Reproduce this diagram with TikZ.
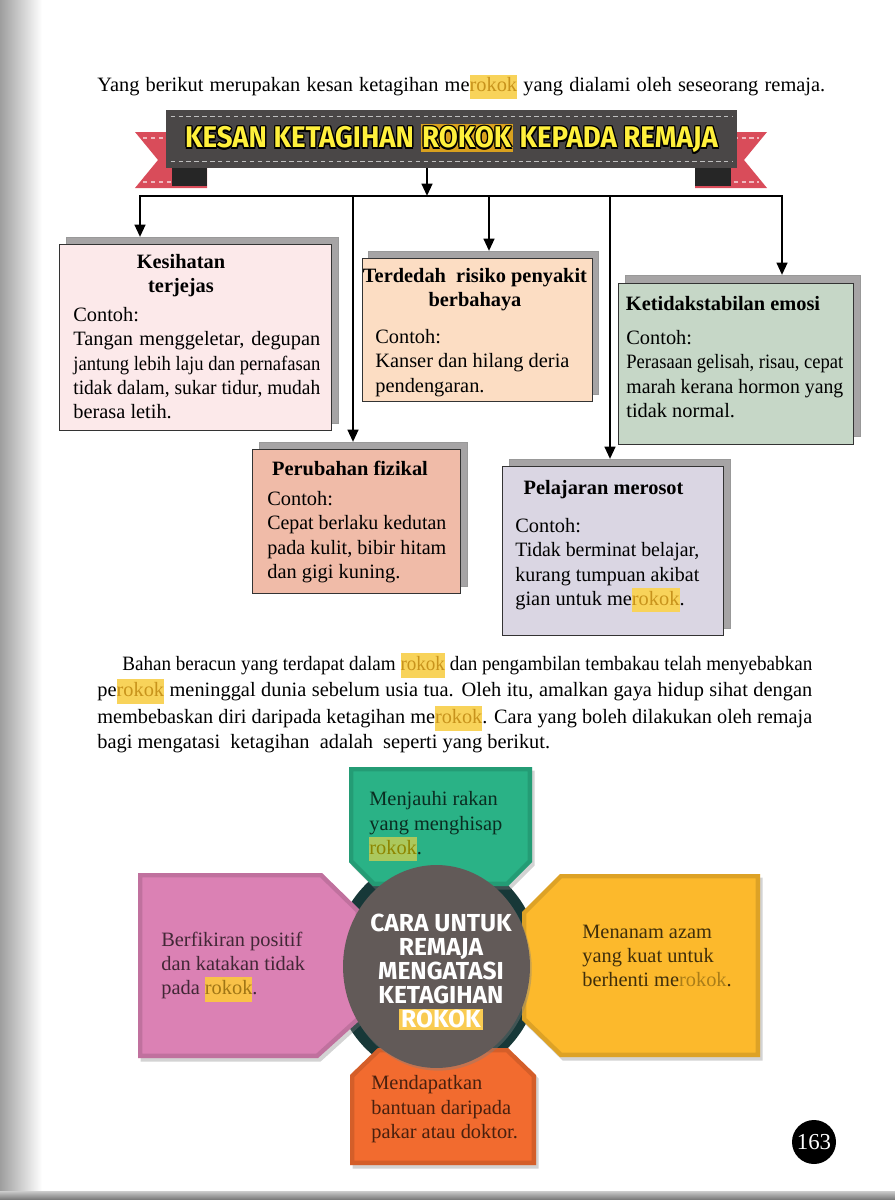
\documentclass[tikz,border=0pt]{standalone}
\usepackage{fontspec}
\usepackage{graphicx}
\usepackage{xcolor}
\setmainfont{Liberation Serif}
\newfontfamily\heavyfont{Fira Sans}
\usetikzlibrary{arrows.meta,calc,shadows,shapes.geometric}

\definecolor{bannergray}{HTML}{4A4747}
\definecolor{ribbon}{HTML}{D94C5A}
\definecolor{titleyel}{HTML}{FFF03C}
\definecolor{titlegold}{HTML}{D9A11E}
\definecolor{hlyel}{HTML}{F8D35A}
\definecolor{hltxt}{HTML}{C8931C}
\definecolor{boxpink}{HTML}{FCE9EA}
\definecolor{boxpeach}{HTML}{FCDDC3}
\definecolor{boxsage}{HTML}{C6D7C7}
\definecolor{boxsalmon}{HTML}{F0BBA8}
\definecolor{boxlilac}{HTML}{DAD6E3}
\definecolor{shadowgray}{HTML}{A6A4A5}
\definecolor{petgreen}{HTML}{2AB286}
\definecolor{petpink}{HTML}{DB81B4}
\definecolor{petyellow}{HTML}{FCB92C}
\definecolor{petorange}{HTML}{F26B2F}
\definecolor{hubgray}{HTML}{625A58}
\definecolor{hubring}{HTML}{173838}

\newcommand\bodyfont{\fontsize{11.6}{13.7}\selectfont}
\newcommand\topstrut{\rule{0pt}{10pt}}
\newlength\jlw
\newcommand\jline[2]{\settowidth\jlw{#2}\ifdim\jlw>#1\relax\resizebox{#1}{\height}{#2}\else\makebox[#1][s]{#2}\fi}
\newcommand\rk[3]{{\setlength\fboxsep{0pt}\colorbox{#1}{\strut\textcolor{#2}{#3}}}}
\newcommand\hl[1]{\rk{hlyel}{hltxt}{#1}}
\newcommand\olt[2]{\leavevmode
  \rlap{\kern-.8pt\textcolor{black}{#2}}\rlap{\kern.8pt\textcolor{black}{#2}}%
  \rlap{\raisebox{.8pt}{\textcolor{black}{#2}}}\rlap{\raisebox{-.8pt}{\textcolor{black}{#2}}}%
  \rlap{\kern-.6pt\raisebox{.6pt}{\textcolor{black}{#2}}}\rlap{\kern.6pt\raisebox{-.6pt}{\textcolor{black}{#2}}}%
  \rlap{\kern.6pt\raisebox{.6pt}{\textcolor{black}{#2}}}\rlap{\kern-.6pt\raisebox{-.6pt}{\textcolor{black}{#2}}}%
  \textcolor{#1}{#2}}

\begin{document}
\begin{tikzpicture}[x=0.02cm,y=-0.02cm,
  every node/.style={font=\bodyfont, inner sep=0pt},
  sz/.style 2 args={minimum width=#1*0.02cm, minimum height=#2*0.02cm},
  effbox/.style={draw=black!80, line width=0.8pt, anchor=north west},
  shadebox/.style={fill=shadowgray, draw=black!40, line width=0.5pt, anchor=north west},
  boxtitle/.style={font=\bodyfont\bfseries, align=center, anchor=north, yshift=10pt,
                   execute at begin node=\topstrut},
  boxbody/.style={align=left, anchor=north west, yshift=10pt,
                  execute at begin node=\topstrut},
  arr/.style={line width=1.4pt, -{Triangle[length=7pt,width=6pt]}},
  stitch/.style={white!75!black, line width=0.6pt, dash pattern=on 2.5pt off 2pt},
  petal/.style={drop shadow={shadow xshift=1.5pt, shadow yshift=-2pt, opacity=.35}},
  bevel/.style={line width=5pt, opacity=.3}]
\useasboundingbox (0,0) rectangle (895,1200);

% page edge
\shade[left color=black!38, right color=white] (0,0) rectangle (42,1200);
\shade[top color=black!20, bottom color=black!55] (0,1191) rectangle (895,1200);

\node[boxbody] (intro) at (97,91)
  {\jline{14.56cm}{Yang berikut merupakan kesan ketagihan me\hl{rokok} yang dialami oleh seseorang remaja.}};

% banner
\fill[ribbon] (207,132) -- (135,132) -- (158,160) -- (135,188) -- (207,188) -- cycle;
\fill[ribbon] (695,132) -- (767,132) -- (744,160) -- (767,188) -- (695,188) -- cycle;
\draw[stitch, white!60!ribbon] (143,138) -- (200,138);
\draw[stitch, white!60!ribbon] (143,182) -- (200,182);
\draw[stitch, white!60!ribbon] (702,138) -- (759,138);
\draw[stitch, white!60!ribbon] (702,182) -- (759,182);
\fill[black!85] (172,166) rectangle (207,186);
\fill[black!85] (695,166) rectangle (731,186);
\node[fill=bannergray, sz={571}{58}] (ban) at (451.5,139)
  {\heavyfont\bfseries\fontsize{17}{20}\selectfont
   \resizebox{10.66cm}{\height}{\olt{titleyel}{KESAN KETAGIHAN}
   {\setlength\fboxsep{1pt}\colorbox{titlegold}{\olt{titleyel}{ROKOK}}}
   \olt{titleyel}{KEPADA REMAJA}}};
\draw[stitch] ($(ban.north west)+(5,7)$) -- ($(ban.north east)+(-5,7)$);
\draw[stitch] ($(ban.south west)+(5,-7)$) -- ($(ban.south east)+(-5,-7)$);

% bus points
\coordinate (j0) at (427,196);
\coordinate (j1) at (140,196);
\coordinate (j2) at (353,196);
\coordinate (j3) at (489,196);
\coordinate (j4) at (610,196);
\coordinate (j5) at (782,196);

% effect boxes
\node[shadebox, sz={272}{186}] (s1) at (66,237) {};
\node[effbox, fill=boxpink, sz={272}{186}] (b1) at (59,244) {};
\node[shadebox, sz={230}{143}] (s3) at (368,251) {};
\node[effbox, fill=boxpeach, sz={230}{143}] (b3) at (362,258) {};
\node[shadebox, sz={235}{161}] (s5) at (625,275) {};
\node[effbox, fill=boxsage, sz={235}{161}] (b5) at (618,283) {};
\node[shadebox, sz={208}{144}] (s2) at (259,442) {};
\node[effbox, fill=boxsalmon, sz={208}{144}] (b2) at (252,449) {};
\node[shadebox, sz={221}{169}] (s4) at (509,459) {};
\node[effbox, fill=boxlilac, sz={221}{169}] (b4) at (502,466) {};

\draw[arr] (ban.south -| j0) -- (j0);
\draw[arr] (j0) -- (j1) -- (j1 |- s1.north);
\draw[arr] (j0) -- (j5) -- (j5 |- s5.north);
\draw[arr] (j2) -- (j2 |- s2.north);
\draw[arr] (j3) -- (j3 |- s3.north);
\draw[arr] (j4) -- (j4 |- s4.north);

\node[boxtitle] (t1) at (181,272) {Kesihatan\\terjejas};
\node[boxbody] (c1) at (73,325) {Contoh:\\
  \jline{4.94cm}{Tangan menggeletar, degupan}\\
  \jline{4.94cm}{jantung lebih laju dan pernafasan}\\
  \jline{4.94cm}{tidak dalam, sukar tidur, mudah}\\
  berasa letih.};

\node[boxtitle] (t3) at (475,286) {Terdedah\ \ risiko penyakit\\berbahaya};
\node[boxbody] (c3) at (375,347) {Contoh:\\Kanser dan hilang deria\\pendengaran.};

\node[boxtitle] (t5) at (723,310) {Ketidakstabilan emosi};
\node[boxbody] (c5) at (626,348) {Contoh:\\
  \jline{4.34cm}{Perasaan gelisah, risau, cepat}\\
  \jline{4.34cm}{marah kerana hormon yang}\\
  tidak normal.};

\node[boxtitle] (t2) at (350,475) {Perubahan fizikal};
\node[boxbody] (c2) at (267,509) {Contoh:\\
  \jline{3.58cm}{Cepat berlaku kedutan}\\
  \jline{3.58cm}{pada kulit, bibir hitam}\\
  dan gigi kuning.};

\node[boxtitle] (t4) at (603.5,494) {Pelajaran merosot};
\node[boxbody] (c4) at (515,536) {Contoh:\\
  \jline{3.68cm}{Tidak berminat belajar,}\\
  \jline{3.68cm}{kurang tumpuan akibat}\\
  gian untuk me\hl{rokok}.};

% paragraph
\node[boxbody, font=\fontsize{11.6}{14.2}\selectfont] (para) at (97,670) {%
  \hspace*{0.5cm}\jline{13.8cm}{Bahan beracun yang terdapat dalam \hl{rokok} dan pengambilan tembakau telah menyebabkan}\\
  \jline{14.3cm}{pe\hl{rokok} meninggal dunia sebelum usia tua. Oleh itu, amalkan gaya hidup sihat dengan}\\
  \jline{14.3cm}{membebaskan diri daripada ketagihan me\hl{rokok}. Cara yang boleh dilakukan oleh remaja}\\
  bagi mengatasi\ \ ketagihan\ \ adalah\ \ seperti yang berikut.};

% ways to quit
\coordinate (hc) at (436.5,966.5);
\fill[hubring] (hc) ellipse [x radius=104, y radius=112];

\fill[petgreen, petal] (349,767) -- (532,767) -- (532,862) -- (508,886) -- (373,886) -- (349,862) -- cycle;
\begin{scope}
\clip (349,767) -- (532,767) -- (532,862) -- (508,886) -- (373,886) -- (349,862) -- cycle;
\draw[bevel, petgreen!60!black] (349,767) -- (532,767) -- (532,862) -- (508,886) -- (373,886) -- (349,862) -- cycle;
\end{scope}

\fill[petpink, petal] (138,873) -- (322,873) -- (360,910) -- (360,1020) -- (318,1058) -- (138,1058) -- cycle;
\begin{scope}
\clip (138,873) -- (322,873) -- (360,910) -- (360,1020) -- (318,1058) -- (138,1058) -- cycle;
\draw[bevel, petpink!60!black] (138,873) -- (322,873) -- (360,910) -- (360,1020) -- (318,1058) -- (138,1058) -- cycle;
\end{scope}

\fill[petyellow, petal] (560,874) -- (760,874) -- (760,1057) -- (560,1057) -- (522,1020) -- (522,912) -- cycle;
\begin{scope}
\clip (560,874) -- (760,874) -- (760,1057) -- (560,1057) -- (522,1020) -- (522,912) -- cycle;
\draw[bevel, petyellow!60!black] (560,874) -- (760,874) -- (760,1057) -- (560,1057) -- (522,1020) -- (522,912) -- cycle;
\end{scope}

\fill[petorange, petal] (350,1075) -- (378,1048) -- (508,1048) -- (536,1075) -- (536,1165) -- (350,1165) -- cycle;
\begin{scope}
\clip (350,1075) -- (378,1048) -- (508,1048) -- (536,1075) -- (536,1165) -- (350,1165) -- cycle;
\draw[bevel, petorange!60!black] (350,1075) -- (378,1048) -- (508,1048) -- (536,1075) -- (536,1165) -- (350,1165) -- cycle;
\end{scope}

\node[ellipse, fill=hubgray, minimum width=3.74cm, minimum height=4.06cm,
      drop shadow={shadow xshift=1pt, shadow yshift=-1.5pt, opacity=.4}] (hub) at (hc) {};
\node[align=center, text=white, font=\heavyfont\bfseries\fontsize{14}{13.7}\selectfont] (hubtxt) at (441,972)
  {CARA UNTUK\\REMAJA\\MENGATASI\\KETAGIHAN\\{\setlength\fboxsep{1pt}\colorbox{hlyel!90!orange}{ROKOK}}};

\node[boxbody, text=petgreen!25!black] (w1) at (369,809)
  {Menjauhi rakan\\yang menghisap\\\rk{yellow!55!petgreen}{olive}{rokok}.};
\node[boxbody, text=petpink!30!black] (w2) at (161,949)
  {Berfikiran positif\\dan katakan tidak\\pada \rk{hlyel!80!orange}{hltxt!80!black}{rokok}.};
\node[boxbody, text=petyellow!25!black] (w3) at (582,942)
  {Menanam azam\\yang kuat untuk\\berhenti me\rk{petyellow}{hltxt!85!black}{rokok}.};
\node[boxbody, text=petorange!30!black] (w4) at (371,1093)
  {Mendapatkan\\bantuan daripada\\pakar atau doktor.};

% page number
\node[circle, fill=black, text=white, minimum size=0.88cm, font=\fontsize{13}{15}\selectfont] (pg) at (814,1142) {163};
\end{tikzpicture}
\end{document}
